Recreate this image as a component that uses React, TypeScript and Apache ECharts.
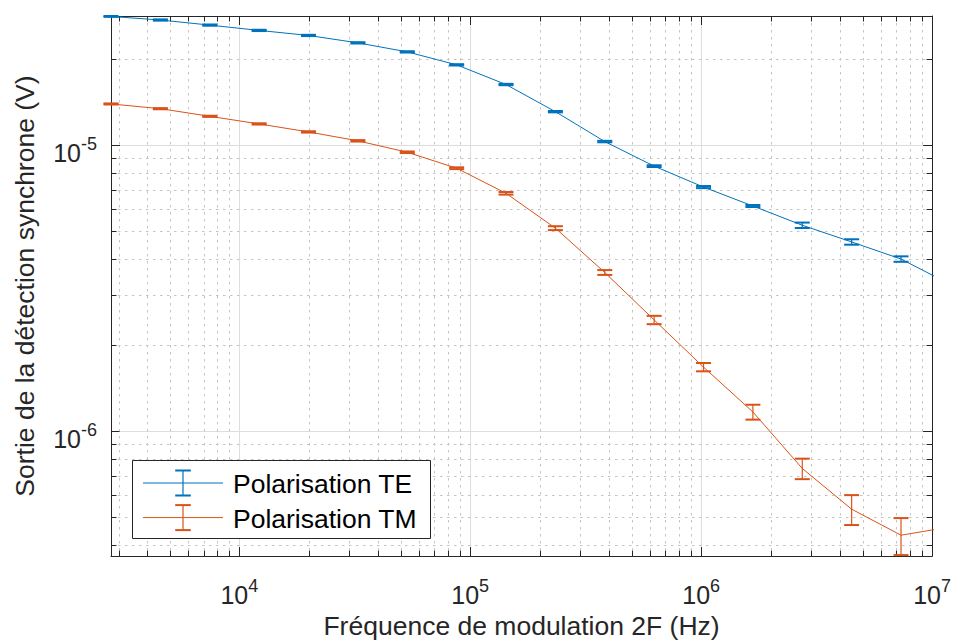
import React, { useEffect, useRef } from 'react';
import * as echarts from 'echarts';

// ---- Data ----
const frequencies = [2783, 4553, 7452, 12190, 19940, 32630, 53390, 87350, 142900, 233800, 382500, 625800, 1024000, 1675000, 2741000, 4484000, 7336000, 12000000];
const teValues = [2.82e-5, 2.74e-5, 2.63e-5, 2.52e-5, 2.42e-5, 2.28e-5, 2.12e-5, 1.91e-5, 1.63e-5, 1.31e-5, 1.03e-5, 8.45e-6, 7.14e-6, 6.13e-6, 5.25e-6, 4.59e-6, 4.0e-6, 3.26e-6];
const teErrors = [1.0e-7, 1.4e-7, 1.3e-7, 1.3e-7, 1.2e-7, 1.2e-7, 1.1e-7, 1.0e-7, 0.9e-7, 0.7e-7, 0.6e-7, 0.6e-7, 0.6e-7, 0.5e-7, 1.15e-7, 1.0e-7, 0.88e-7, 0.8e-7];
const tmValues = [1.394e-5, 1.342e-5, 1.262e-5, 1.187e-5, 1.113e-5, 1.036e-5, 9.45e-6, 8.31e-6, 6.79e-6, 5.13e-6, 3.59e-6, 2.45e-6, 1.676e-6, 1.168e-6, 7.41e-7, 5.34e-7, 4.33e-7, 4.63e-7];
const tmErrors = [0.6e-7, 0.6e-7, 0.6e-7, 0.6e-7, 0.6e-7, 0.6e-7, 0.6e-7, 0.6e-7, 0.7e-7, 0.8e-7, 0.7e-7, 0.82e-7, 0.56e-7, 0.7e-7, 0.61e-7, 0.64e-7, 0.64e-7, 0.6e-7];
const seriesNames = ['Polarisation TE', 'Polarisation TM'];
const seriesColors = ['#0072BD', '#D95319'];
const xLimits = [2783, 1e7];
const yLimits = [3.66e-7, 2.83e-5];
const minorMultipliers = [2, 3, 4, 5, 6, 7, 8, 9];
const xDecades = [1e3, 1e4, 1e5, 1e6];
const yDecades = [1e-7, 1e-6, 1e-5];
const xTitle = 'Fréquence de modulation 2F (Hz)';
const yTitle = 'Sortie de la détection synchrone (V)';

const FONT = '"Liberation Sans", Arial, Helvetica, sans-serif';
const AXIS_COLOR = '#262626';

function minorValues(decades: number[], lim: number[]) {
  const out: number[] = [];
  decades.forEach((d) => minorMultipliers.forEach((m) => {
    const v = m * d;
    if (v > lim[0] * 1.0001 && v < lim[1] * 0.9999) out.push(v);
  }));
  return out;
}

function powLabel(v: number) {
  const e = Math.log10(v);
  const r = Math.round(e);
  if (Math.abs(e - r) > 1e-6) return '';
  return `{b|10}{s|${r}}`;
}

const richX = {
  b: { fontSize: 25, fontFamily: FONT, color: AXIS_COLOR, lineHeight: 30, verticalAlign: 'bottom' },
  s: { fontSize: 18, fontFamily: FONT, color: AXIS_COLOR, lineHeight: 10, verticalAlign: 'top' },
};

function errorRender(color: string) {
  return (params: any, api: any) => {
    const x = api.value(0);
    if (x > xLimits[1] * 1.0001 || x < xLimits[0] * 0.9999) return null;
    const lo = api.coord([x, api.value(2)]);
    const hi = api.coord([x, api.value(3)]);
    const hw = 7.5;
    return {
      type: 'group',
      children: [
        { type: 'line', shape: { x1: lo[0], y1: lo[1], x2: hi[0], y2: hi[1] }, style: { stroke: color, lineWidth: 1.2 } },
        { type: 'line', shape: { x1: lo[0] - hw, y1: lo[1], x2: lo[0] + hw, y2: lo[1] }, style: { stroke: color, lineWidth: 2 } },
        { type: 'line', shape: { x1: hi[0] - hw, y1: hi[1], x2: hi[0] + hw, y2: hi[1] }, style: { stroke: color, lineWidth: 2 } },
      ],
    };
  };
}

export default function App() {
  const ref = useRef<HTMLDivElement>(null);
  useEffect(() => {
    if (!ref.current) return;
    const chart = echarts.init(ref.current, undefined, { renderer: 'svg' });
    const minorX = minorValues(xDecades, xLimits);
    const minorY = minorValues(yDecades, yLimits);

    const legendItems: any[] = [];
    const lx = 132.5, ly = 460.5, lw = 298, lh = 78;
    legendItems.push({ type: 'rect', shape: { x: lx, y: ly, width: lw, height: lh }, style: { fill: '#ffffff', stroke: AXIS_COLOR, lineWidth: 1 }, z: 100 });
    seriesNames.forEach((name, i) => {
      const cy = 483 + i * 34.6;
      const c = seriesColors[i];
      legendItems.push({ type: 'line', shape: { x1: 143, y1: cy, x2: 223, y2: cy }, style: { stroke: c, lineWidth: 1 }, z: 101 });
      legendItems.push({ type: 'line', shape: { x1: 183, y1: cy - 12.5, x2: 183, y2: cy + 12.5 }, style: { stroke: c, lineWidth: 1.2 }, z: 101 });
      legendItems.push({ type: 'line', shape: { x1: 175.2, y1: cy - 12.5, x2: 190.8, y2: cy - 12.5 }, style: { stroke: c, lineWidth: 2 }, z: 101 });
      legendItems.push({ type: 'line', shape: { x1: 175.2, y1: cy + 12.5, x2: 190.8, y2: cy + 12.5 }, style: { stroke: c, lineWidth: 2 }, z: 101 });
      legendItems.push({ type: 'text', x: 233, y: cy + 1, style: { text: name, fontSize: 26.5, fontFamily: FONT, fill: '#000', verticalAlign: 'middle', align: 'left' }, z: 101 });
    });

    const axisCommon = {
      type: 'log',
      logBase: 10,
      axisLine: { show: true, onZero: false, lineStyle: { color: AXIS_COLOR, width: 1 } },
      axisTick: { show: true, inside: true, length: 9, lineStyle: { color: AXIS_COLOR, width: 1 } },
    };

    chart.setOption({
      animation: false,
      backgroundColor: '#ffffff',
      grid: { left: 111, top: 16, width: 822, height: 542, containLabel: false },
      xAxis: [
        {
          ...axisCommon,
          position: 'bottom',
          min: xLimits[0],
          max: xLimits[1],
          name: xTitle,
          nameLocation: 'middle',
          nameGap: 46,
          nameTextStyle: { fontSize: 26.5, fontFamily: FONT, color: AXIS_COLOR },
          axisLabel: { show: true, margin: 21, formatter: powLabel, rich: richX },
          splitLine: { show: true, lineStyle: { color: '#dedede', width: 1 } },
        },
        {
          ...axisCommon,
          position: 'top',
          min: xLimits[0],
          max: xLimits[1],
          axisLabel: { show: false },
          splitLine: { show: false },
        },
      ],
      yAxis: [
        {
          ...axisCommon,
          position: 'left',
          min: yLimits[0],
          max: yLimits[1],
          name: yTitle,
          nameLocation: 'middle',
          nameGap: 73,
          nameTextStyle: { fontSize: 26.5, fontFamily: FONT, color: AXIS_COLOR },
          axisLabel: { show: true, margin: 14, padding: [10, 0, 0, 0], formatter: powLabel, rich: richX },
          splitLine: { show: true, lineStyle: { color: '#dedede', width: 1 } },
        },
        {
          ...axisCommon,
          position: 'right',
          min: yLimits[0],
          max: yLimits[1],
          axisLabel: { show: false },
          splitLine: { show: false },
        },
      ],
      graphic: legendItems,
      series: [
        {
          type: 'custom',
          name: 'minorX',
          silent: true,
          z: 1,
          xAxisIndex: 0,
          yAxisIndex: 0,
          data: minorX.map((v) => [v, yLimits[0]]),
          renderItem: (params: any, api: any) => {
            const p = api.coord([api.value(0), yLimits[0]]);
            const cs = params.coordSys;
            const x = Math.round(p[0]) + 0.5;
            const top = cs.y, bottom = cs.y + cs.height;
            return {
              type: 'group',
              children: [
                { type: 'line', shape: { x1: x, y1: top, x2: x, y2: bottom }, style: { stroke: '#c4c4c4', lineWidth: 1, lineDash: [2.5, 4.5] } },
                { type: 'line', shape: { x1: x, y1: bottom, x2: x, y2: bottom - 5.5 }, style: { stroke: AXIS_COLOR, lineWidth: 1 } },
                { type: 'line', shape: { x1: x, y1: top, x2: x, y2: top + 5.5 }, style: { stroke: AXIS_COLOR, lineWidth: 1 } },
              ],
            };
          },
        },
        {
          type: 'custom',
          name: 'minorY',
          silent: true,
          z: 1,
          xAxisIndex: 0,
          yAxisIndex: 0,
          data: minorY.map((v) => [xLimits[0], v]),
          renderItem: (params: any, api: any) => {
            const p = api.coord([xLimits[0], api.value(1)]);
            const cs = params.coordSys;
            const y = Math.round(p[1]) + 0.5;
            const left = cs.x, right = cs.x + cs.width;
            return {
              type: 'group',
              children: [
                { type: 'line', shape: { x1: left, y1: y, x2: right, y2: y }, style: { stroke: '#c4c4c4', lineWidth: 1, lineDash: [2.5, 4.5] } },
                { type: 'line', shape: { x1: left, y1: y, x2: left + 5.5, y2: y }, style: { stroke: AXIS_COLOR, lineWidth: 1 } },
                { type: 'line', shape: { x1: right, y1: y, x2: right - 5.5, y2: y }, style: { stroke: AXIS_COLOR, lineWidth: 1 } },
              ],
            };
          },
        },
        {
          type: 'line',
          name: seriesNames[0],
          data: frequencies.map((f, i) => [f, teValues[i]]),
          showSymbol: false,
          symbol: 'none',
          clip: true,
          z: 3,
          lineStyle: { color: seriesColors[0], width: 1 },
          itemStyle: { color: seriesColors[0] },
        },
        {
          type: 'custom',
          name: seriesNames[0] + ' err',
          z: 4,
          data: frequencies.map((f, i) => [f, teValues[i], teValues[i] - teErrors[i], teValues[i] + teErrors[i]]),
          encode: { x: 0, y: [1, 2, 3] },
          renderItem: errorRender(seriesColors[0]),
        },
        {
          type: 'line',
          name: seriesNames[1],
          data: frequencies.map((f, i) => [f, tmValues[i]]),
          showSymbol: false,
          symbol: 'none',
          clip: true,
          z: 3,
          lineStyle: { color: seriesColors[1], width: 1 },
          itemStyle: { color: seriesColors[1] },
        },
        {
          type: 'custom',
          name: seriesNames[1] + ' err',
          z: 4,
          data: frequencies.map((f, i) => [f, tmValues[i], tmValues[i] - tmErrors[i], tmValues[i] + tmErrors[i]]),
          encode: { x: 0, y: [1, 2, 3] },
          renderItem: errorRender(seriesColors[1]),
        },
      ],
    } as any);
    return () => chart.dispose();
  }, []);
  return <div ref={ref} style={{ position: 'fixed', left: 0, top: 0, width: 954, height: 644, background: '#fff' }} />;
}
